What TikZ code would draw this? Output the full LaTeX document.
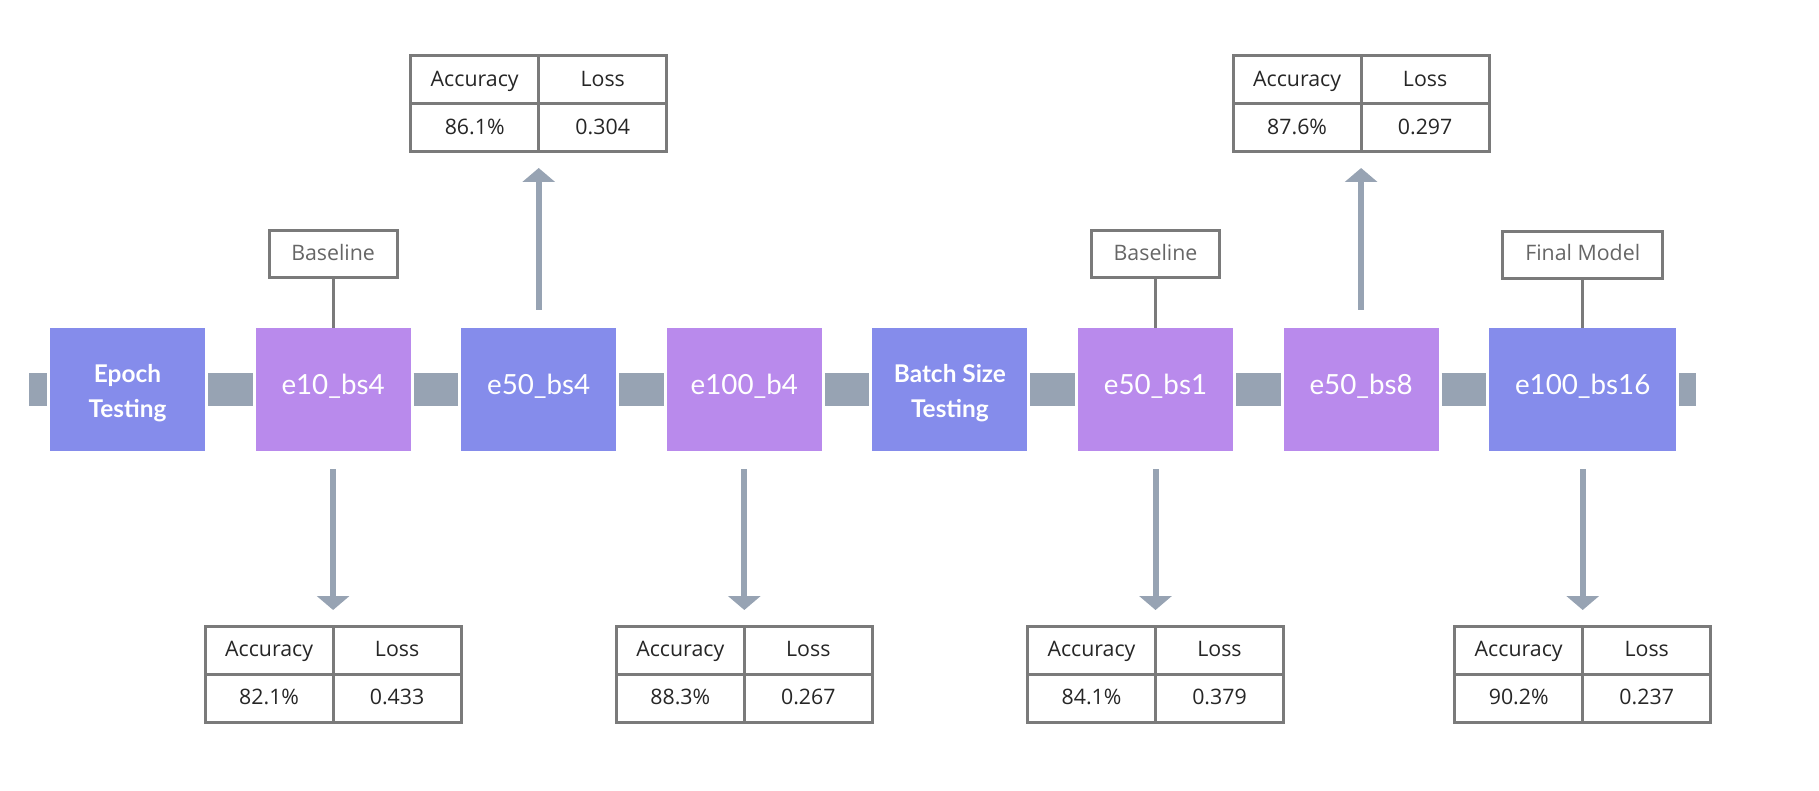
\documentclass[tikz,border=0pt]{standalone}
\usepackage{fontspec}
\setmainfont{Open Sans}
\newfontfamily\latofont{Lato}
\usetikzlibrary{positioning, arrows.meta}
\definecolor{stepblue}{HTML}{858CEB}
\definecolor{steppurple}{HTML}{B98AEC}
\definecolor{linkgrey}{HTML}{97A3B3}
\definecolor{cellgrey}{HTML}{7A7A7A}
\tikzset{box/.style={minimum width=116.25pt,minimum height=92.25pt,inner sep=0pt,outer sep=0pt,text=white,
                     text height=0.78em,text depth=0pt,font=\latofont\fontsize{20.8}{24}\selectfont},
         phasetext/.style={align=center,text=white,yshift=-2.6pt,font=\latofont\bfseries\fontsize{18.3}{26}\selectfont},
         phase/.style={box,fill=stepblue,label={[phasetext]center:#1}},
         run/.style={box,fill=steppurple},
         runblue/.style={box,fill=stepblue},
         tag/.style={draw=cellgrey,line width=2.25pt,minimum width=96pt,minimum height=35.25pt,inner sep=0pt,
                     text height=0.9em,text depth=0pt,text=black!60,font=\fontsize{16}{18}\selectfont},
         cell/.style={draw=cellgrey,line width=2.25pt,minimum width=96pt,minimum height=36pt,inner sep=0pt,
                      outer sep=0pt,text height=0.94em,text depth=0pt,text=black!85,font=\fontsize{16}{18}\selectfont},
         link/.style={linkgrey,line width=24.75pt,shorten <=2.25pt,shorten >=2.25pt},
         result/.style={linkgrey,line width=4.5pt,-{Triangle[length=10.5pt,width=24pt]},shorten <=13.5pt,shorten >=12pt},
         pin/.style={cellgrey,line width=2.25pt},
        }
\begin{document}
\begin{tikzpicture}[x=0.75pt,y=-0.75pt]
        \useasboundingbox (0,0) rectangle (1819,791);

        \node[phase={Epoch\\Testing}](epoch)at(127.5,389.5){};
        \node[run](e10)at(333.1,389.5){e10\_bs4};
        \node[runblue](e50)at(538.7,389.5){e50\_bs4};
        \node[run](e100)at(744.3,389.5){e100\_b4};
        \node[phase={Batch Size\\Testing}](batch)at(949.9,389.5){};
        \node[run](e50b1)at(1155.5,389.5){e50\_bs1};
        \node[run](e50b8)at(1361.1,389.5){e50\_bs8};
        \node[runblue,minimum width=140.25pt](final)at(1582.7,389.5){e100\_bs16};
        \coordinate(lend)at(29,389.5);
        \coordinate(rend)at(1696,389.5);

        \node[tag](base1)at(333.1,254.5){Baseline};
        \node[tag](base2)at(1155.5,254.5){Baseline};
        \node[tag,minimum width=120pt](fin)at(1582.7,255){Final Model};

        % results above
        \node[cell](e50acc)at(474.7,80){Accuracy};
        \node[cell](e50loss)at(602.7,80){Loss};
        \node[cell](e50accv)at(474.7,128){86.1\%};
        \node[cell](e50lossv)at(602.7,128){0.304};
        \node[cell](e50b8acc)at(1297.1,80){Accuracy};
        \node[cell](e50b8loss)at(1425.1,80){Loss};
        \node[cell](e50b8accv)at(1297.1,128){87.6\%};
        \node[cell](e50b8lossv)at(1425.1,128){0.297};

        % results below
        \node[cell](e10acc)at(269.1,650){Accuracy};
        \node[cell](e10loss)at(397.1,650){Loss};
        \node[cell](e10accv)at(269.1,698){82.1\%};
        \node[cell](e10lossv)at(397.1,698){0.433};
        \node[cell](e100acc)at(680.3,650){Accuracy};
        \node[cell](e100loss)at(808.3,650){Loss};
        \node[cell](e100accv)at(680.3,698){88.3\%};
        \node[cell](e100lossv)at(808.3,698){0.267};
        \node[cell](e50b1acc)at(1091.5,650){Accuracy};
        \node[cell](e50b1loss)at(1219.5,650){Loss};
        \node[cell](e50b1accv)at(1091.5,698){84.1\%};
        \node[cell](e50b1lossv)at(1219.5,698){0.379};
        \node[cell](finalacc)at(1518.7,650){Accuracy};
        \node[cell](finalloss)at(1646.7,650){Loss};
        \node[cell](finalaccv)at(1518.7,698){90.2\%};
        \node[cell](finallossv)at(1646.7,698){0.237};

        \draw[link,shorten <=0pt](lend)--(epoch);
        \draw[link](epoch)--(e10);
        \draw[link](e10)--(e50);
        \draw[link](e50)--(e100);
        \draw[link](e100)--(batch);
        \draw[link](batch)--(e50b1);
        \draw[link](e50b1)--(e50b8);
        \draw[link](e50b8)--(final);
        \draw[link,shorten >=0pt](final)--(rend);

        \draw[pin](base1)--(e10);
        \draw[pin](base2)--(e50b1);
        \draw[pin](fin)--(final);

        \draw[result](e50)--(e50accv.south east);
        \draw[result](e50b8)--(e50b8accv.south east);
        \draw[result](e10)--(e10acc.north east);
        \draw[result](e100)--(e100acc.north east);
        \draw[result](e50b1)--(e50b1acc.north east);
        \draw[result](final)--(finalacc.north east);
    \end{tikzpicture}
\end{document}
